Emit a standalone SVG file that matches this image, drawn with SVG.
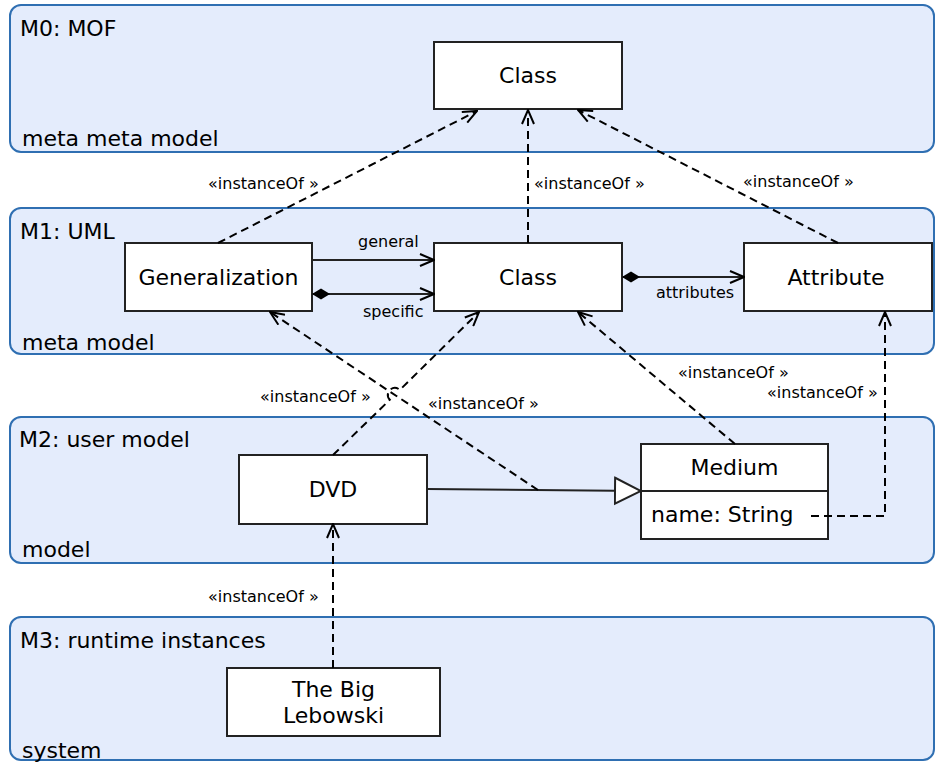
<svg xmlns="http://www.w3.org/2000/svg" width="936" height="762" viewBox="0 0 936 762">
<style>
text{font-family:"DejaVu Sans","Noto Sans",sans-serif;fill:#000}
.panel{fill:#e4ecfc;stroke:#2f6fb2;stroke-width:2}
.plabel{font-size:22px}
.box{fill:#fff;stroke:#222;stroke-width:2}
.name{font-size:22px;text-anchor:middle}
.lbl{font-size:16px}
.dash{fill:none;stroke:#000;stroke-width:2;stroke-dasharray:8,5}
.solid{fill:none;stroke:#222;stroke-width:2}
</style>
<defs>
<marker id="open" viewBox="0 0 16 14" refX="15" refY="7" markerWidth="16" markerHeight="14" markerUnits="userSpaceOnUse" orient="auto"><path d="M1,1 L15,7 L1,13" fill="none" stroke="#000" stroke-width="2" stroke-dasharray="none"/></marker>
<marker id="diamond" viewBox="0 0 20 14" refX="1" refY="7" markerWidth="20" markerHeight="14" markerUnits="userSpaceOnUse" orient="auto"><path d="M1,7 L10,1.5 L19,7 L10,12.5 Z" fill="#000" stroke="none"/></marker>
<marker id="tri" viewBox="0 0 28 30" refX="27" refY="15" markerWidth="28" markerHeight="30" markerUnits="userSpaceOnUse" orient="auto"><path d="M1,2 L27,15 L1,28 Z" fill="#fff" stroke="#222" stroke-width="2"/></marker>
</defs>

<g id="M0">
<rect class="panel" x="10" y="5" width="924" height="147" rx="11"/>
<text class="plabel" x="20" y="36">M0: MOF</text>
<text class="plabel" x="22" y="146">meta meta model</text>
</g>
<g id="M1">
<rect class="panel" x="10" y="208" width="924" height="146" rx="11"/>
<text class="plabel" x="20" y="239">M1: UML</text>
<text class="plabel" x="22" y="350">meta model</text>
</g>
<g id="M2">
<rect class="panel" x="10" y="417" width="924" height="146" rx="11"/>
<text class="plabel" x="19" y="447">M2: user model</text>
<text class="plabel" x="22" y="557">model</text>
</g>
<g id="M3">
<rect class="panel" x="10" y="617" width="924" height="143" rx="11"/>
<text class="plabel" x="20" y="648">M3: runtime instances</text>
<text class="plabel" x="22" y="758">system</text>
</g>

<g id="MOF-Class">
<rect class="box" x="434" y="42" width="188" height="67"/>
<text class="name" x="528" y="83">Class</text>
</g>
<g id="Generalization">
<rect class="box" x="125" y="243" width="187" height="68"/>
<text class="name" x="218.5" y="285">Generalization</text>
</g>
<g id="UML-Class">
<rect class="box" x="434" y="243" width="188" height="68"/>
<text class="name" x="528" y="285">Class</text>
</g>
<g id="Attribute">
<rect class="box" x="744" y="243" width="188" height="68"/>
<text class="name" x="836" y="285">Attribute</text>
</g>
<g id="DVD">
<rect class="box" x="239" y="455" width="188" height="69"/>
<text class="name" x="333" y="497">DVD</text>
</g>
<g id="Medium">
<rect class="box" x="641" y="444" width="187" height="95"/>
<line class="solid" x1="641" y1="491" x2="828" y2="491"/>
<text class="name" x="734.5" y="475">Medium</text>
<text x="651" y="522" style="font-size:22px">name: String</text>
</g>
<g id="TheBigLebowski">
<rect class="box" x="227" y="668" width="213" height="68"/>
<text class="name" x="333.5" y="697">The Big</text>
<text class="name" x="333.5" y="723">Lebowski</text>
</g>

<g id="connectors">
<path class="dash" d="M218,243 L477,111" marker-end="url(#open)"/>
<path class="dash" d="M528,243 L528,110" marker-end="url(#open)"/>
<path class="dash" d="M838,243 L578,110" marker-end="url(#open)"/>
<path class="solid" d="M312,260 L434,260" marker-end="url(#open)"/>
<path class="solid" d="M312,294 L434,294" marker-start="url(#diamond)" marker-end="url(#open)"/>
<path class="solid" d="M622,277 L744,277" marker-start="url(#diamond)" marker-end="url(#open)"/>
<path class="dash" d="M333,455 L389.8,399.8 A7,7 0 0 1 399.8,390 L479,312" marker-end="url(#open)"/>
<path class="dash" d="M735,444 L578,312" marker-end="url(#open)"/>
<path class="solid" d="M427,489 L641,491" marker-end="url(#tri)"/>
<path class="dash" d="M538,490 L270,312" marker-end="url(#open)"/>
<path class="dash" d="M811,516 L885,516 L885,312" marker-end="url(#open)"/>
<path class="dash" d="M333,668 L333,524" marker-end="url(#open)"/>
<text class="lbl" x="208" y="189">«instanceOf »</text>
<text class="lbl" x="534" y="189">«instanceOf »</text>
<text class="lbl" x="743" y="187">«instanceOf »</text>
<text class="lbl" x="358" y="247">general</text>
<text class="lbl" x="363" y="317">specific</text>
<text class="lbl" x="656" y="298">attributes</text>
<text class="lbl" x="678" y="378">«instanceOf »</text>
<text class="lbl" x="767" y="398">«instanceOf »</text>
<text class="lbl" x="260" y="402">«instanceOf »</text>
<text class="lbl" x="428" y="409">«instanceOf »</text>
<text class="lbl" x="208" y="602">«instanceOf »</text>
</g>
</svg>
